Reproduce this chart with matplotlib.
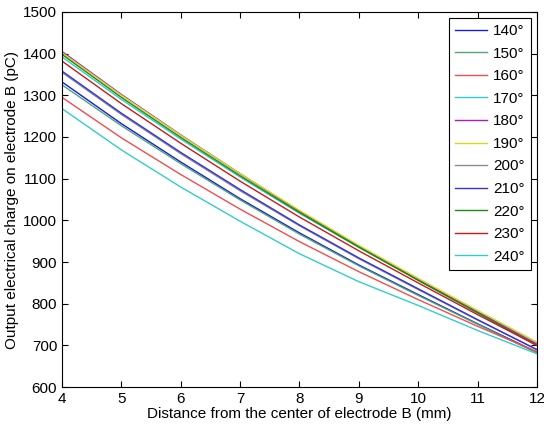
import matplotlib
matplotlib.use("Agg")
import matplotlib.pyplot as plt

plt.rcParams['font.family'] = ['Liberation Sans', 'DejaVu Sans']

# distance from center of electrode B (mm)
distance = [4, 5, 6, 7, 8, 9, 10, 11, 12]

angles = ['140°', '150°', '160°', '170°', '180°', '190°',
          '200°', '210°', '220°', '230°', '240°']

q140 = [1332, 1232, 1140, 1052, 970, 893, 822, 752, 684]
q150 = [1325, 1227, 1136, 1049, 967, 891, 820, 751, 682]
q160 = [1295, 1198, 1110, 1027, 949, 877, 810, 746, 685]
q170 = [1392, 1290, 1195, 1104, 1017, 935, 857, 781, 706]
q180 = [1405, 1302, 1205, 1112, 1022, 938, 858, 780, 703]
q190 = [1402, 1300, 1204, 1112, 1024, 940, 861, 784, 708]
q200 = [1355, 1254, 1160, 1071, 987, 908, 834, 761, 690]
q210 = [1358, 1257, 1163, 1074, 989, 910, 836, 762, 690]
q220 = [1398, 1295, 1199, 1107, 1019, 936, 856, 778, 700]
q230 = [1382, 1280, 1185, 1094, 1008, 927, 850, 774, 700]
q240 = [1268, 1169, 1080, 998, 920, 853, 796, 736, 680]

series = [q140, q150, q160, q170, q180, q190, q200, q210, q220, q230, q240]
colors = [(0.1, 0.1, 0.85), (0.3, 0.65, 0.45), (0.95, 0.3, 0.3),
          (0.2, 0.8, 0.8), (0.7, 0.1, 0.7), (0.85, 0.85, 0.1),
          (0.55, 0.55, 0.55), (0.2, 0.2, 0.85), (0.1, 0.55, 0.1),
          (0.8, 0.1, 0.1), (0.2, 0.8, 0.8)]

fig = plt.figure(figsize=(5.44, 4.25), dpi=100)
ax = fig.add_axes([0.114, 0.089, 0.873, 0.883])

for s, c, lab in zip(series, colors, angles):
    ax.plot(distance, s, color=c, lw=1, label=lab)

ax.set_xlim(4, 12)
ax.set_ylim(600, 1500)
ax.set_xticks(range(4, 13))
ax.set_yticks(range(600, 1501, 100))
ax.tick_params(direction='in', top=True, right=True, labelsize=11, length=4)
ax.set_xlabel("Distance from the center of electrode B (mm)", fontsize=11, labelpad=1)
ax.set_ylabel("Output electrical charge on electrode B (pC)", fontsize=11, labelpad=3)

leg = ax.legend(loc='upper right', fontsize=11, handlelength=2.1, labelspacing=0.56,
                fancybox=False, edgecolor='black', borderaxespad=0.4,
                handletextpad=0.4, borderpad=0.4, framealpha=1)
leg.get_frame().set_linewidth(0.8)

plt.savefig("out.png", dpi=100)
